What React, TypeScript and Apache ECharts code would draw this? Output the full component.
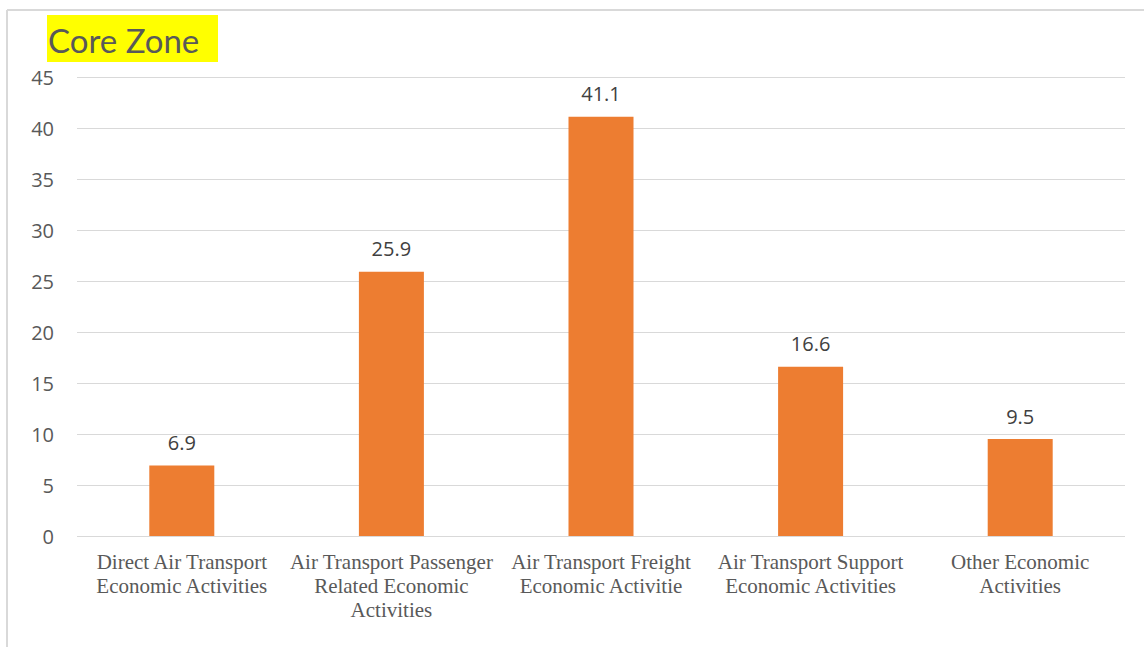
import React, { useEffect, useRef } from "react";
import * as echarts from "echarts";

const categories = [
  "Direct Air Transport\nEconomic Activities",
  "Air Transport Passenger\nRelated Economic\nActivities",
  "Air Transport Freight\nEconomic Activitie",
  "Air Transport Support\nEconomic Activities",
  "Other Economic\nActivities",
];
const values = [6.9, 25.9, 41.1, 16.6, 9.5];
const titleText = "Core Zone";
const yMin = 0;
const yMax = 45;
const yInterval = 5;

export default function App() {
  const ref = useRef<HTMLDivElement>(null);
  useEffect(() => {
    if (!ref.current) return;
    const chart = echarts.init(ref.current, undefined, { renderer: "svg" });
    chart.setOption({
      animation: false,
      backgroundColor: "#ffffff",
      grid: { left: 77, right: 19, top: 77, bottom: 111, containLabel: false },
      xAxis: {
        type: "category",
        data: categories,
        axisLine: { show: false },
        axisTick: { show: false },
        axisLabel: {
          interval: 0,
          margin: 14,
          color: "#595959",
          fontFamily: "Liberation Serif",
          fontSize: 21,
          lineHeight: 24,
        },
      },
      yAxis: {
        type: "value",
        min: yMin,
        max: yMax,
        interval: yInterval,
        axisLine: { show: false },
        axisTick: { show: false },
        splitLine: { lineStyle: { color: "#d9d9d9", width: 1 } },
        axisLabel: {
          color: "#595959",
          fontFamily: "Open Sans",
          fontSize: 20,
          margin: 23,
        },
      },
      series: [
        {
          type: "bar",
          data: values,
          barWidth: 65,
          itemStyle: { color: "#ED7D31" },
          label: {
            show: true,
            position: "top",
            distance: 13,
            color: "#404040",
            fontFamily: "Open Sans",
            fontSize: 20,
          },
        },
      ],
      graphic: [
        {
          type: "line",
          shape: { x1: 7, y1: 10, x2: 7, y2: 647 },
          style: { stroke: "#d9d9d9", lineWidth: 2 },
        },
        {
          type: "line",
          shape: { x1: 7, y1: 10, x2: 1144, y2: 10 },
          style: { stroke: "#d9d9d9", lineWidth: 2 },
        },
        {
          type: "rect",
          shape: { x: 47, y: 15, width: 171, height: 47 },
          style: { fill: "#ffff00" },
        },
        {
          type: "text",
          x: 48,
          y: 40,
          style: {
            text: titleText,
            fill: "#595959",
            font: "33px Lato",
            textVerticalAlign: "middle",
            verticalAlign: "middle",
          },
        },
      ],
    });
    return () => chart.dispose();
  }, []);
  return (
    <div
      ref={ref}
      style={{ position: "absolute", left: 0, top: 0, width: 1144, height: 647 }}
    />
  );
}
